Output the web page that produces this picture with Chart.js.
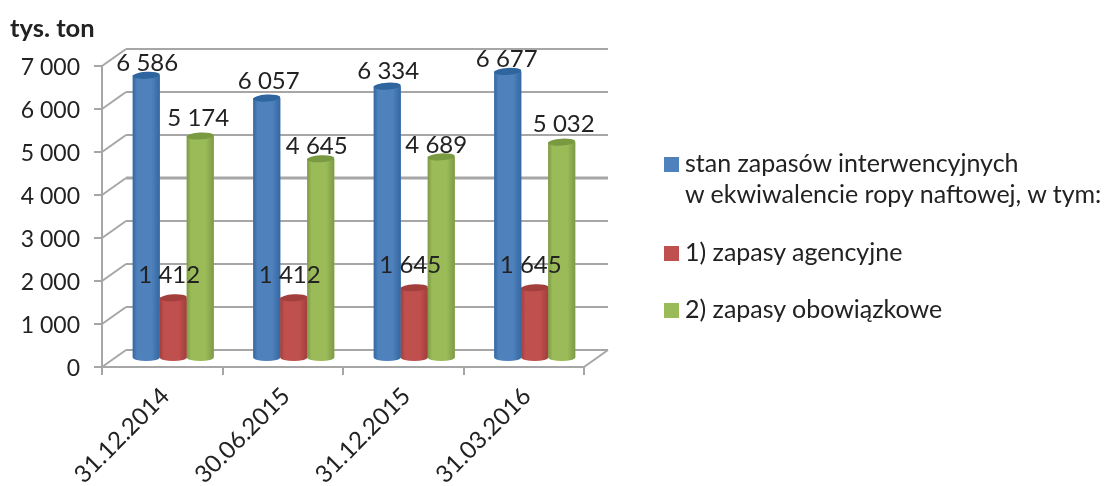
<!DOCTYPE html>
<html lang="pl">
<head>
<meta charset="utf-8">
<title>Zapasy interwencyjne</title>
<script src="https://cdn.jsdelivr.net/npm/chart.js@4/dist/chart.umd.min.js"></script>
<style>
    html, body { margin: 0; padding: 0; background: #fff; }
    #wrap { position: relative; width: 1104px; height: 486px; overflow: hidden; font-family: Lato, sans-serif; color: #222; }
    #unit { position: absolute; left: 10px; top: 14px; font-size: 25.5px; font-weight: bold; line-height: 26px; }
    #legend { position: absolute; left: 0; top: 0; margin: 0; padding: 0; list-style: none; font-size: 25px; line-height: 31px; }
    #legend li { position: absolute; left: 685px; white-space: nowrap; }
    #legend i { position: absolute; left: -21px; top: 10px; width: 15px; height: 15px; }
</style>
</head>
<body>
<div id="wrap">
    <canvas id="chart" width="1104" height="486"></canvas>
    <div id="unit">tys. ton</div>
    <ul id="legend"></ul>
</div>
<script>
var categories = ['31.12.2014', '30.06.2015', '31.12.2015', '31.03.2016'];
var stanZapasow = [6586, 6057, 6334, 6677];
var zapasyAgencyjne = [1412, 1412, 1645, 1645];
var zapasyObowiazkowe = [5174, 4645, 4689, 5032];

var seriesNames = [
    ['stan zapasów interwencyjnych', 'w ekwiwalencie ropy naftowej, w tym:'],
    ['1) zapasy agencyjne'],
    ['2) zapasy obowiązkowe']
];
var seriesColors = ['#4f81bd', '#c0504d', '#9bbb59'];
var edgeColors = ['#34689f', '#a03f3d', '#7d9a45'];
var capColors = ['#2e659f', '#a23f3d', '#7a9a42'];

// przesuniecie etykiet wzgledem wierzcholka slupka [dx, wysokosc]
var labelShift = [
    [[0, 12], [1, 17], [0, 15], [-2, 12]],
    [[-5, 23], [-5, 23], [-5, 22], [-5, 22]],
    [[-3, 18], [-5, 12], [-6, 12], [1, 18]]
];

var depthX = 24, depthY = 17;
var gridColor = '#a6a6a6';

function formatNumber(v) {
    return String(v).replace(/\B(?=(\d{3})+$)/g, ' ');
}

function line(ctx, pts, width) {
    ctx.beginPath();
    ctx.lineWidth = width;
    ctx.strokeStyle = gridColor;
    pts.forEach(function(p, i) {
        if (i == 0) ctx.moveTo(p[0], p[1]);
        else ctx.lineTo(p[0], p[1]);
    });
    ctx.stroke();
}

//sciana tylna, lewa i podloga
function drawWalls(chart) {
    var ctx = chart.ctx, area = chart.chartArea, y = chart.scales.y;
    ctx.save();
    y.ticks.forEach(function(t) {
        var py = y.getPixelForValue(t.value);
        var w = t.value == 4000 ? 3 : 2;
        line(ctx, [[area.left, py], [area.left + depthX, py - depthY]], 2);
        line(ctx, [[area.left + depthX, py - depthY], [area.right + depthX, py - depthY]], w);
    });
    line(ctx, [[area.right, area.bottom], [area.right + depthX, area.bottom - depthY]], 2);
    ctx.restore();
}

//walce rysowane na elementach slupkow
function drawCylinders(chart) {
    var ctx = chart.ctx;
    chart.data.datasets.forEach(function(ds, d) {
        chart.getDatasetMeta(d).data.forEach(function(el) {
            var r = el.width / 2;
            var g = ctx.createLinearGradient(el.x - r, 0, el.x + r, 0);
            g.addColorStop(0, edgeColors[d]);
            g.addColorStop(0.16, seriesColors[d]);
            g.addColorStop(0.7, seriesColors[d]);
            g.addColorStop(1, edgeColors[d]);
            ctx.fillStyle = g;
            ctx.beginPath();
            ctx.moveTo(el.x - r, el.y);
            ctx.lineTo(el.x + r, el.y);
            ctx.lineTo(el.x + r, el.base);
            ctx.ellipse(el.x, el.base, r, 3.5, 0, 0, Math.PI);
            ctx.closePath();
            ctx.fill();
            ctx.fillStyle = capColors[d];
            ctx.beginPath();
            ctx.ellipse(el.x, el.y, r, 3.5, -0.06, 0, Math.PI * 2);
            ctx.fill();
        });
    });
}

function drawValues(chart) {
    var ctx = chart.ctx;
    ctx.save();
    ctx.font = '24px Lato, sans-serif';
    ctx.fillStyle = '#222';
    ctx.textAlign = 'center';
    ctx.textBaseline = 'middle';
    chart.data.datasets.forEach(function(ds, d) {
        chart.getDatasetMeta(d).data.forEach(function(el, i) {
            var s = labelShift[d][i];
            ctx.fillText(formatNumber(ds.data[i]), el.x + depthX / 2 + s[0], el.y - depthY / 2 - s[1]);
        });
    });
    ctx.restore();
}

var pseudo3d = {
    id: 'pseudo3d',
    beforeDatasetsDraw: function(chart) {
        drawWalls(chart);
        chart.ctx.save();
        chart.ctx.translate(depthX / 2 - 1, -depthY / 2);
    },
    afterDatasetsDraw: function(chart) {
        drawCylinders(chart);
        chart.ctx.restore();
        drawValues(chart);
    }
};

function generateLegend(id) {
    var legend = document.getElementById(id);
    var tops = [147, 236, 293];
    legend.innerHTML = seriesNames.map(function(name, i) {
        return '<li style="top:' + tops[i] + 'px"><i style="background:' + seriesColors[i] + '"></i>' +
            name.join('<br>') + '</li>';
    }).join('');
}

var series = [stanZapasow, zapasyAgencyjne, zapasyObowiazkowe];

new Chart(document.getElementById('chart').getContext('2d'), {
    type: 'bar',
    data: {
        labels: categories,
        datasets: series.map(function(values, i) {
            return {
                label: seriesNames[i].join(' '),
                data: values,
                backgroundColor: seriesColors[i],
                barPercentage: 1,
                categoryPercentage: 0.672,
                clip: false
            };
        })
    },
    options: {
        responsive: false,
        animation: false,
        devicePixelRatio: 1,
        layout: { padding: { top: 66, right: 520, left: 0, bottom: 0 } },
        plugins: { legend: { display: false }, title: { display: false }, tooltip: { enabled: false } },
        scales: {
            x: {
                afterFit: function(scale) { scale.height = 119; },
                grid: { drawOnChartArea: false, color: gridColor, lineWidth: 2, tickLength: 8 },
                border: { color: gridColor, width: 2 },
                ticks: {
                    color: '#222',
                    font: { family: 'Lato, sans-serif', size: 24 },
                    minRotation: 45,
                    maxRotation: 45,
                    autoSkip: false,
                    padding: 7,
                    labelOffset: 3
                }
            },
            y: {
                min: 0,
                max: 7000,
                afterFit: function(scale) { scale.width = 102; },
                grid: { drawOnChartArea: false, color: gridColor, lineWidth: 2, tickLength: 8 },
                border: { color: gridColor, width: 2 },
                ticks: {
                    stepSize: 1000,
                    color: '#222',
                    font: { family: 'Lato, sans-serif', size: 23 },
                    padding: 14,
                    labelOffset: 2,
                    callback: function(v) { return formatNumber(v); }
                }
            }
        }
    },
    plugins: [pseudo3d]
});

generateLegend('legend');
</script>
</body>
</html>
